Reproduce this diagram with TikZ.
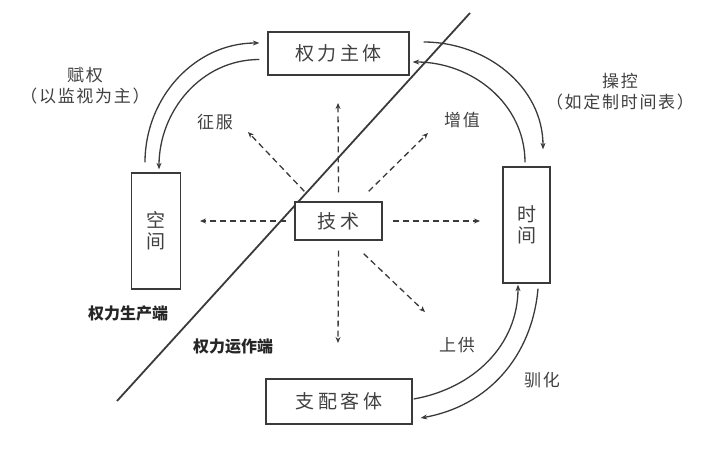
\documentclass[tikz,border=0pt]{standalone}
\usepackage{fontspec}
\usepackage{tikz}
\usetikzlibrary{arrows.meta, positioning}
\newfontfamily\cjkwide{Noto Sans CJK SC}[LetterSpace=18]
\newfontfamily\cjklabel{Noto Sans CJK SC}[LetterSpace=10]
\newfontfamily\cjkplain{Noto Sans CJK SC}
\definecolor{lineGray}{HTML}{3A3A3A}
\definecolor{textGray}{HTML}{404040}

\begin{document}
\begin{tikzpicture}[
    x=1pt, y=1pt,
    boxNode/.style={draw=lineGray, line width=1.3pt, fill=white, inner sep=0pt, text=textGray, font=\cjkwide\fontsize{19}{21}\selectfont},
    vertNode/.style={boxNode, align=center, font=\cjkplain\fontsize{19}{21}\selectfont},
    techRel/.style={-{Stealth[length=6pt,width=5pt]}, lineGray, line width=1.3pt, dash pattern=on 6pt off 4pt},
    flowRel/.style={-{Stealth[length=6.5pt,width=5pt]}, lineGray, line width=1.3pt},
    labelText/.style={text=textGray, font=\cjklabel\fontsize{17}{21}\selectfont, align=center},
    sideText/.style={text=black!85, font=\cjkplain\bfseries\fontsize{16}{18}\selectfont}
]
    \useasboundingbox (0,0) rectangle (720,450);

    % Dividing Line
    \coordinate (divTop) at (470,437);
    \coordinate (divBot) at (117,49);
    \draw[lineGray, line width=1.8pt] (divTop) -- (divBot);

    % Boxes
    \node[boxNode, minimum width=141pt, minimum height=43pt] (qlzt) at (338.5,396.5) {权力主体};
    \node[vertNode, minimum width=49pt, minimum height=116pt] (kj) at (156,219) {空\\间};
    \node[vertNode, minimum width=47pt, minimum height=116pt] (sj) at (526.5,225) {时\\间};
    \node[boxNode, minimum width=87pt, minimum height=38pt] (js) at (338.5,229) {技术};
    \node[boxNode, minimum width=146pt, minimum height=45pt] (zpkt) at (339,48.5) {支配客体};

    % Technique Arrows
    \coordinate (tUp) at (338,347);
    \coordinate (tDown) at (338,107);
    \coordinate (tLeft) at (200,229);
    \coordinate (tRight) at (480,229);
    \coordinate (tUL) at (248,318);
    \coordinate (tUR) at (428,317);
    \coordinate (tLR) at (425,138);
    \draw[techRel] ([yshift=9pt]js.north) -- (tUp);
    \draw[techRel] ([yshift=-10pt]js.south) -- (tDown);
    \draw[techRel] ([xshift=-8pt]js.west) -- (tLeft);
    \draw[techRel] ([xshift=10pt]js.east) -- (tRight);
    \draw[techRel] ([xshift=10pt,yshift=10pt]js.north west) -- (tUL);
    \draw[techRel] ([xshift=-14pt,yshift=10pt]js.north east) -- (tUR);
    \draw[techRel] ([xshift=-19pt,yshift=-13pt]js.south east) -- (tLR);

    % Power Cycle
    \draw[flowRel] ([xshift=-11pt,yshift=10pt]kj.north) to[out=90, in=180] ([xshift=-8pt,yshift=10.5pt]qlzt.west);
    \draw[flowRel] ([xshift=-8pt,yshift=-6pt]qlzt.west) to[out=180, in=90] ([xshift=3pt,yshift=3pt]kj.north);
    \draw[flowRel] ([xshift=14pt,yshift=11.5pt]qlzt.east) to[out=0, in=90] ([xshift=16.5pt,yshift=17pt]sj.north);
    \draw[flowRel] ([xshift=-1.5pt,yshift=4pt]sj.north) to[out=90, in=0] ([xshift=3pt,yshift=-8.5pt]qlzt.east);
    \draw[flowRel] ([xshift=1pt,yshift=2.5pt]zpkt.east) to[out=10, in=270] ([xshift=-8.5pt,yshift=-1pt]sj.south);
    \draw[flowRel] ([xshift=11.5pt,yshift=-5pt]sj.south) to[out=265, in=10] ([xshift=8pt,yshift=-16.5pt]zpkt.east);

    % Labels
    \node[labelText] (lZf) at (215,328) {征服};
    \node[labelText] (lZz) at (462,330) {增值};
    \node[labelText] (lSg) at (457,105) {上供};
    \node[labelText] (lXh) at (542,70) {驯化};
    \node[labelText] (lFq) at (85,364) {赋权\\（以监视为主）};
    \node[labelText] (lCk) at (620,358) {操控\\（如定制时间表）};
    \node[sideText] (lProd) at (128,137) {权力生产端};
    \node[sideText] (lOper) at (233,103) {权力运作端};
\end{tikzpicture}
\end{document}
